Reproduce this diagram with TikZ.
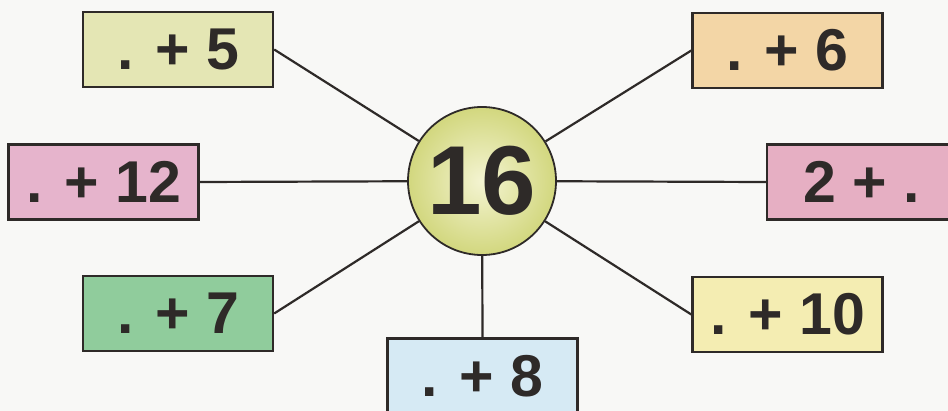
\documentclass[tikz,border=0pt]{standalone}
\usepackage{fontspec}
\setmainfont{Liberation Sans}
\usetikzlibrary{positioning}
\definecolor{inkc}{HTML}{2E2A28}
\definecolor{paper}{HTML}{F8F8F6}
\definecolor{hubin}{HTML}{F4F4D2}
\definecolor{hubout}{HTML}{D2D77E}
\definecolor{boxfive}{HTML}{E4E6B4}
\definecolor{boxsix}{HTML}{F3D6A6}
\definecolor{boxtwelve}{HTML}{E6B4CC}
\definecolor{boxtwo}{HTML}{E6AFC3}
\definecolor{boxseven}{HTML}{90CC9C}
\definecolor{boxten}{HTML}{F4EDB2}
\definecolor{boxeight}{HTML}{D6EAF4}
\tikzset{
  numbox/.style={rectangle,draw=inkc,line width=2.4pt,
                 minimum width=190pt,minimum height=75pt,inner sep=0pt,
                 font=\fontsize{59}{59}\selectfont\bfseries,text=inkc},
  hubnode/.style={circle,draw=inkc,line width=1.8pt,minimum size=148pt,
                  inner color=hubin,outer color=hubout,
                  font=\fontsize{98}{98}\selectfont\bfseries,text=inkc},
  link/.style={draw=inkc,line width=2.2pt},
}
\begin{document}
\begin{tikzpicture}[x=1pt,y=-1pt]
  \fill[paper] (0,0) rectangle (948,411);
  \useasboundingbox (0,0) rectangle (948,411);
  \clip (0,0) rectangle (948,411);
  %% Hub
  \node[hubnode] (H) at (482,181) {16};
  %% Sum boxes
  \node[numbox,fill=boxfive]   (B5)  at (178,49.5)  {. + 5};
  \node[numbox,fill=boxsix]    (B6)  at (787.5,50.5) {. + 6};
  \node[numbox,fill=boxtwelve] (B12) at (103.5,182) {. + 12};
  \node[numbox,fill=boxtwo]    (B2)  at (862,182)   {2 + .};
  \node[numbox,fill=boxseven]  (B7)  at (178,313.5) {. + 7};
  \node[numbox,fill=boxten]    (B10) at (787.5,314.5) {. + 10};
  \node[numbox,fill=boxeight]  (B8)  at (482.5,376) {. + 8};
  %% Spokes
  \draw[link] (B5.east)  -- (H);
  \draw[link] (B12.east) -- (H);
  \draw[link] (B7.east)  -- (H);
  \draw[link] (B6.west)  -- (H);
  \draw[link] (B2.west)  -- (H);
  \draw[link] (B10.west) -- (H);
  \draw[link] (B8.north) -- (H);
\end{tikzpicture}
\end{document}
